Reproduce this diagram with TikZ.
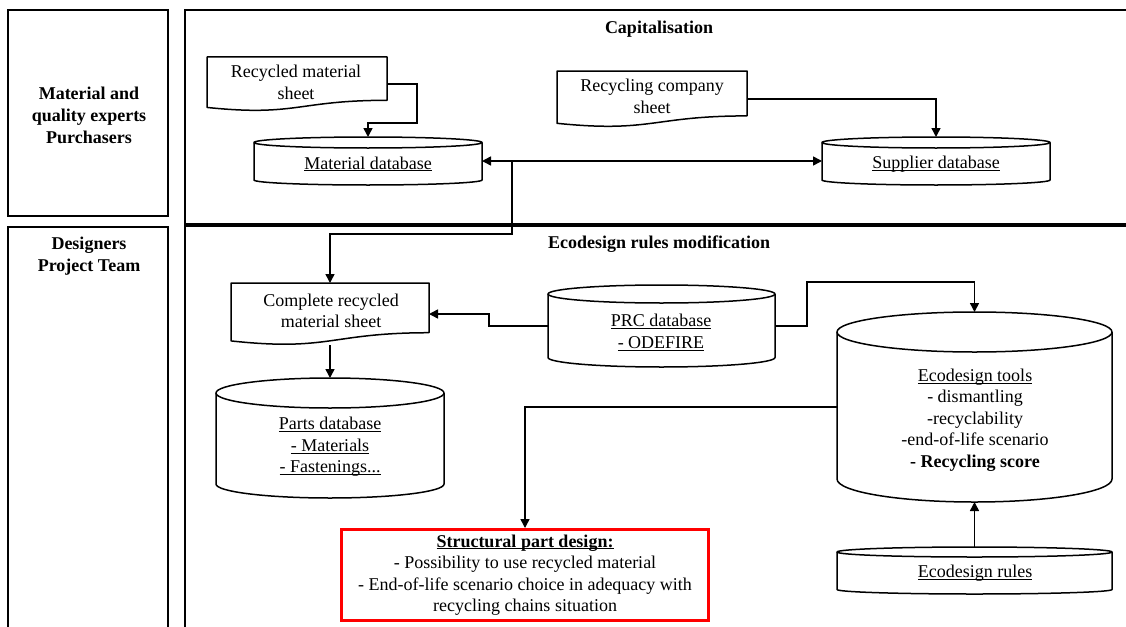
\documentclass[tikz,border=0pt]{standalone}
\usepackage{fontspec}
\setmainfont{Liberation Serif}
\usetikzlibrary{arrows.meta}
\newcommand\ulx[1]{\setbox0\hbox{#1}\rlap{\rule[-2.2pt]{\wd0}{0.9pt}}\box0}
% cylinder: name, x1, y1, x2, y2, top ry, bottom ry
\newcommand\cylnode[7]{%
  \pgfmathsetmacro\cxa{(#2+#4)/2}%
  \pgfmathsetmacro\cya{(#3+#5)/2}%
  \pgfmathsetmacro\rxa{(#4-#2)/2}%
  \pgfmathsetmacro\wda{#4-#2}%
  \pgfmathsetmacro\hta{#5-#3}%
  \pgfmathsetmacro\yta{#3+#6}%
  \pgfmathsetmacro\yba{#5-#7}%
  \node[hold, minimum width=\wda pt, minimum height=\hta pt] (#1) at (\cxa,\cya) {};
  \draw[shp] (#2,\yta) -- (#2,\yba) arc[start angle=180,end angle=360,x radius=\rxa pt,y radius=#7pt] -- (#4,\yta);
  \draw[shp] (\cxa,\yta) ellipse[x radius=\rxa pt,y radius=#6pt];
}
% document: name, x1, y1, x2, y2
\newcommand\docnode[5]{%
  \pgfmathsetmacro\cxa{(#2+#4)/2}%
  \pgfmathsetmacro\cya{(#3+#5)/2}%
  \pgfmathsetmacro\wda{#4-#2}%
  \pgfmathsetmacro\hta{#5-#3}%
  \pgfmathsetmacro\yra{#3+0.802*(#5-#3)}%
  \pgfmathsetmacro\yla{#3+0.934*(#5-#3)}%
  \pgfmathsetmacro\yma{#3+1.107*(#5-#3)}%
  \node[hold, minimum width=\wda pt, minimum height=\hta pt] (#1) at (\cxa,\cya) {};
  \draw[shp] (#2,\yla) -- (#2,#3) -- (#4,#3) -- (#4,\yra)
     .. controls (\cxa,\yra) and (\cxa,\yma) .. (#2,\yla) -- cycle;
}
\tikzset{
  shp/.style={draw=black, line width=1.5pt, fill=white, line join=round},
  lane/.style={draw=black, line width=2pt},
  hold/.style={inner sep=0pt, outer sep=0pt, draw=none},
  txt/.style={inner sep=0pt, align=center},
  hdr/.style={inner sep=0pt, align=center, font=\fontsize{18}{22}\selectfont\bfseries},
  conn/.style={line width=1.5pt, -{Triangle[length=9pt,width=9pt]}},
  conn2/.style={line width=1.5pt, {Triangle[length=9pt,width=9pt]}-{Triangle[length=9pt,width=9pt]}},
  redbox/.style={draw=red, line width=3pt, inner sep=0pt, align=center, outer sep=1.5pt}
}
\begin{document}
\begin{tikzpicture}[x=1pt, y=-1pt, font=\fontsize{18}{21.5}\selectfont]
\useasboundingbox (0,0) rectangle (1126,626);
\clip (0,0) rectangle (1126,626);
\fill[white] (0,0) rectangle (1126,626);

% lanes
\draw[lane] (8,10) rectangle (168,216);
\draw[lane] (8,227) rectangle (168,660);
\draw[lane] (185,10) rectangle (1150,225);
\draw[lane] (185,225) rectangle (1150,660);
\draw[line width=3.5pt] (185,225) -- (1150,225);

\node[hdr] (lane1) at (89,115) {Material and\\quality experts\\Purchasers};
\node[hdr] (lane2) at (89,256) {Designers\\Project Team};
\node[hdr] (cap) at (659,29) {Capitalisation};
\node[hdr] (eco) at (659,244) {Ecodesign rules modification};

% shapes
\docnode{rms}{207}{57}{387}{111}
\node[txt] (rms-t) at (296,82.5) {Recycled material\\sheet};
\docnode{rcs}{557}{71}{747}{127}
\node[txt] (rcs-t) at (652,96.5) {Recycling company\\sheet};
\docnode{crms}{231}{283}{429}{345}
\node[txt] (crms-t) at (331,311) {Complete recycled\\material sheet};

\cylnode{md}{254}{137}{482}{185}{5.5}{5}
\node[txt] (md-t) at (368,164) {\ulx{Material database}};
\cylnode{sd}{822}{137}{1050}{185}{5.5}{5}
\node[txt] (sd-t) at (936,164) {\ulx{Supplier database}};
\cylnode{prc}{548}{285}{775}{367}{9}{9.5}
\node[txt] (prc-t) at (661,332.5) {\ulx{PRC database}\\\ulx{- ODEFIRE}};
\cylnode{pd}{216}{378}{444}{498}{15}{14}
\node[txt] (pd-t) at (330,447) {\ulx{Parts database}\\\ulx{- Materials}\\\ulx{- Fastenings...}};
\cylnode{et}{837}{312}{1112}{502}{20}{23}
\node[txt] (et-t) at (975,420) {\ulx{Ecodesign tools}\\- dismantling\\-recyclability\\-end-of-life scenario\\\textbf{- Recycling score}};
\cylnode{er}{837}{547}{1112}{594}{5}{4.5}
\node[txt] (er-t) at (975,573) {\ulx{Ecodesign rules}};

\node[redbox, minimum width=367pt, minimum height=91pt] (spd) at (525,575)
  {\ulx{\textbf{Structural part design:}}\\- Possibility to use recycled material\\- End-of-life scenario choice in adequacy with\\recycling chains situation};

% connectors
\coordinate (j) at (512,161);
\draw[conn] (rms.east) -- ++(30,0) -- ++(0,39) -| (md.north);
\draw[conn] (rcs.east) -| (sd.north);
\draw[conn2] (md.east) -- (sd.west);
\draw[conn] (j) -- (512,234) -| (crms.north);
\draw[conn] (prc.west) -- ++(-59,0) |- (crms.east);
\draw[conn] (prc.east) -- ++(32,0) -- ++(0,-44) -| (et.north);
\draw[conn] (crms.south) -- (pd.north);
\draw[conn] (et.west) -| (spd.north);
\draw[conn] (er.north) -- (et.south);
\end{tikzpicture}
\end{document}
